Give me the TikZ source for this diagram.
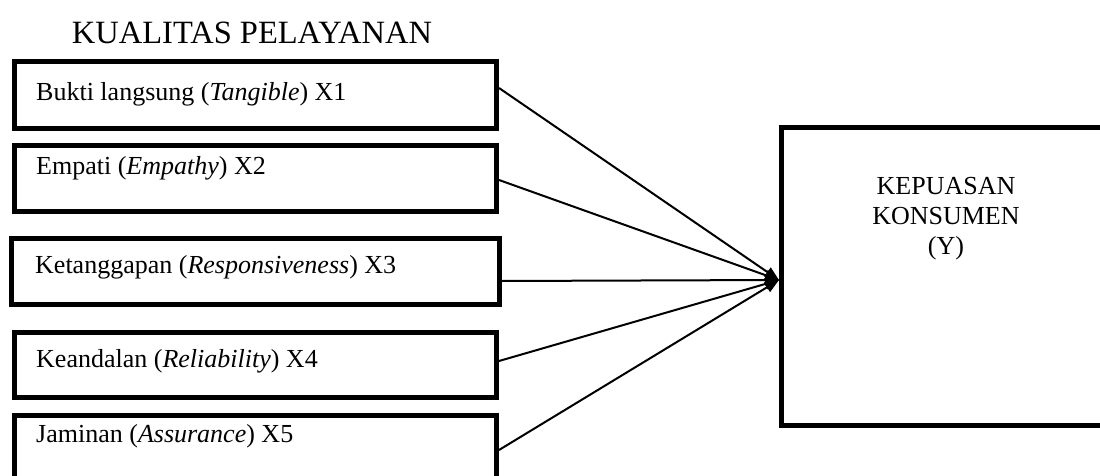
\documentclass[tikz,border=0pt]{standalone}
\usepackage{fontspec}
\setmainfont{Liberation Serif}
\usetikzlibrary{arrows.meta}
\begin{document}
\begin{tikzpicture}[x=1pt,y=-1pt,
  frame/.style={draw=black, line width=5pt, inner sep=0pt, minimum width=482pt},
  lbl/.style={anchor=base west, inner sep=0pt, font=\fontsize{26}{30}\selectfont},
  link/.style={line width=2pt, -{Triangle[length=14pt,width=11pt]}}]
\useasboundingbox (0,0) rectangle (1100,476);
\clip (0,0) rectangle (1100,476);

% heading
\node[anchor=base, inner sep=0pt, font=\fontsize{32.5}{36}\selectfont] (title) at (252,44) {KUALITAS PELAYANAN};

% service quality dimensions
\node[frame, minimum height=67pt] (b1) at (255.5,95) {};
\node[frame, minimum height=66pt] (b2) at (255.5,178.5) {};
\node[frame, minimum height=66pt, minimum width=488pt] (b3) at (255.5,271.5) {};
\node[frame, minimum height=65pt] (b4) at (255.5,365) {};
\node[frame, minimum height=84.5pt] (b5) at (255.5,457.75) {};

\node[lbl] (t1) at (36,101) {Bukti langsung (\textit{Tangible}) X1};
\node[lbl] (t2) at (36,175) {Empati (\textit{Empathy}) X2};
\node[lbl] (t3) at (35,273) {Ketanggapan (\textit{Responsiveness}) X3};
\node[lbl] (t4) at (36,367) {Keandalan (\textit{Reliability}) X4};
\node[lbl] (t5) at (36,442) {Jaminan (\textit{Assurance}) X5};

% customer satisfaction
\node[draw=black, line width=5pt, inner sep=0pt, minimum width=329pt, minimum height=298pt] (kb) at (946,276.5) {};
\node[anchor=base, inner sep=0pt, align=center, font=\fontsize{26}{30}\selectfont] (kt) at (946,254) {KEPUASAN\\KONSUMEN\\(Y)};

\coordinate (hub) at ([yshift=-3.5pt]kb.west);

% influence paths
\draw[link] ([yshift=7pt]b1.east) -- (hub);
\draw[link] ([yshift=-1.5pt]b2.east) -- (hub);
\draw[link] ([yshift=-9.5pt]b3.east) -- (hub);
\draw[link] ([yshift=4pt]b4.east) -- (hub);
\draw[link] ([yshift=7.75pt]b5.east) -- (hub);
\end{tikzpicture}
\end{document}
